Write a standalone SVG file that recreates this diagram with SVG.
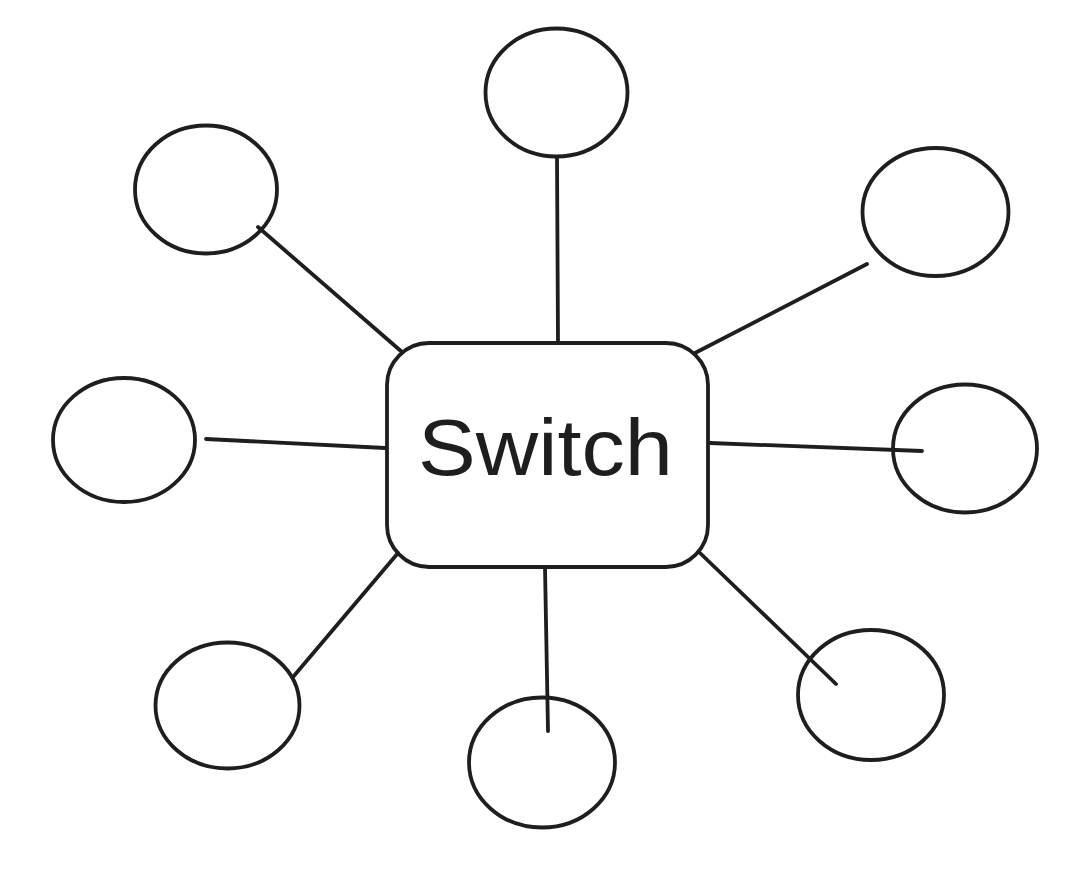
<svg xmlns="http://www.w3.org/2000/svg" width="1090" height="878" viewBox="0 0 1090 878">
<style>
.n{fill:none;stroke:#1e1e1e;stroke-width:3.8;stroke-linecap:round;stroke-linejoin:round}
.c{stroke:#1e1e1e;stroke-width:3.8;stroke-linecap:round}
.t{font-family:"Liberation Sans",Arial,sans-serif;font-size:80px;fill:#1e1e1e}
</style>
<rect width="1090" height="878" fill="#ffffff"/>
<g id="connectors">
<line class="c" x1="557" y1="157" x2="558" y2="342"/>
<line class="c" x1="258" y1="227" x2="402" y2="352"/>
<line class="c" x1="867" y1="264" x2="695" y2="353"/>
<line class="c" x1="206" y1="439" x2="385" y2="448"/>
<line class="c" x1="710" y1="443" x2="922" y2="451"/>
<line class="c" x1="398" y1="553" x2="293" y2="677"/>
<line class="c" x1="545" y1="567" x2="548" y2="731"/>
<line class="c" x1="700" y1="553" x2="836" y2="684"/>
</g>
<g id="switch">
<rect class="n" x="387" y="343" width="321" height="224" rx="42" ry="42"/>
<text class="t" x="545.5" y="475" text-anchor="middle" textLength="255" lengthAdjust="spacingAndGlyphs">Switch</text>
</g>
<g id="node-top"><ellipse class="n" cx="556.5" cy="92.5" rx="71" ry="64"/></g>
<g id="node-top-left"><ellipse class="n" cx="206" cy="189.5" rx="71" ry="64"/></g>
<g id="node-top-right"><ellipse class="n" cx="935.5" cy="212" rx="73" ry="64"/></g>
<g id="node-left"><ellipse class="n" cx="124" cy="440" rx="71" ry="62"/></g>
<g id="node-right"><ellipse class="n" cx="965" cy="448.5" rx="72" ry="64"/></g>
<g id="node-bottom-left"><ellipse class="n" cx="227.5" cy="705.5" rx="72" ry="63"/></g>
<g id="node-bottom"><ellipse class="n" cx="542" cy="762.5" rx="73" ry="65"/></g>
<g id="node-bottom-right"><ellipse class="n" cx="871" cy="695" rx="73" ry="65"/></g>
</svg>
